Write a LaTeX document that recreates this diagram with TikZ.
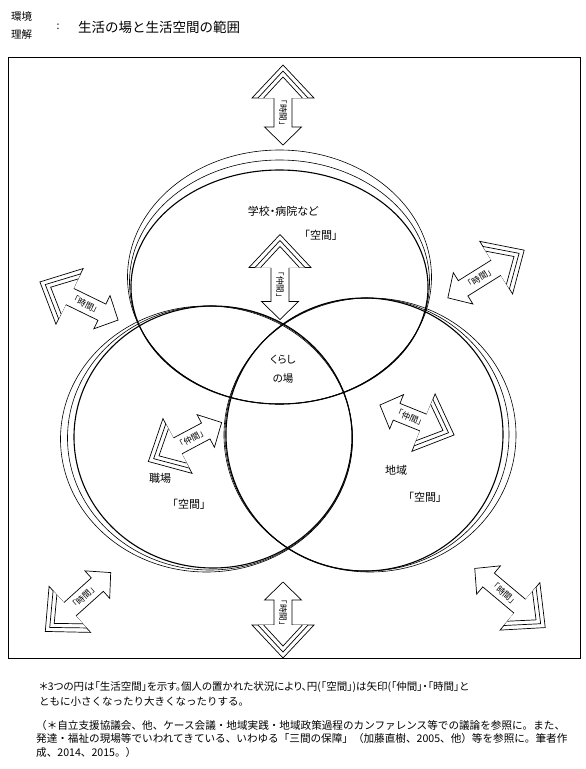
\documentclass[tikz,border=0pt]{standalone}
\usepackage{fontspec}
\setmainfont{Noto Sans CJK JP}
\newfontfamily\jpp[RawFeature=+palt]{Noto Sans CJK JP}
\newcommand{\fsz}[1]{\fontsize{#1}{#1}\selectfont}

% double block arrow: name, x, y, axis angle, length, text angle, label
\newcommand{\sanarrow}[7]{%
  \begin{scope}[shift={(#2,#3)}, rotate=#4]
    \pgfmathsetmacro{\ha}{#5/2}
    \draw[arrline] (\ha-33,9) -- (\ha-33,31) -- (\ha,0) -- (\ha-33,-31) -- (\ha-33,-9)
      -- (-\ha+18,-9) -- (-\ha+18,-18.5) -- (-\ha,0) -- (-\ha+18,18.5) -- (-\ha+18,9) -- cycle;
    \draw[arrline] (\ha-33,25) -- (\ha-6,0) -- (\ha-33,-25);
    \draw[arrline] (\ha-33,19.4) -- (\ha-12,0) -- (\ha-33,-19.4);
    \node[lbl, rotate=#6] (#1) at (-7.5,0) {#7};
  \end{scope}}

\tikzset{
  ring/.style={line width=0.6pt},
  mainring/.style={line width=1.1pt},
  arrline/.style={line width=0.7pt, fill=white, line join=miter},
  lbl/.style={font=\fsz{8.5}, inner sep=0pt},
  inlbl/.style={font=\jpp\fsz{11}},
}

\begin{document}
\begin{tikzpicture}[x=1pt, y=-1pt]
  \useasboundingbox (0,0) rectangle (586,769);

  % heading
  \node[anchor=west, font=\fsz{10.5}, inner sep=0pt] (kankyo) at (11,17) {環境};
  \node[anchor=west, font=\fsz{10.5}, inner sep=0pt] (rikai) at (11,35) {理解};
  \node[font=\fsz{10.5}, inner sep=0pt] (colon) at (58,27) {:};
  \node[anchor=west, font=\fsz{13.5}, inner sep=0pt] (title) at (78,27) {生活の場と生活空間の範囲};

  \draw[line width=0.9pt] (8,57) rectangle (580,658);

  % three living spaces
  \draw[ring] (279.5,277) ellipse [x radius=152, y radius=127];
  \draw[ring] (279.5,282) ellipse [x radius=150, y radius=122];
  \draw[mainring] (279.5,287) ellipse [x radius=148.5, y radius=117];

  \draw[ring] (206.5,439) ellipse [x radius=146, y radius=133];
  \draw[ring] (210,438) ellipse [x radius=142.5, y radius=132];
  \draw[mainring] (213,437) ellipse [x radius=139, y radius=131];

  \draw[ring] (370,435) ellipse [x radius=146, y radius=137];
  \draw[ring] (367,434.5) ellipse [x radius=142, y radius=136.5];
  \draw[mainring] (364.5,434.5) ellipse [x radius=138.5, y radius=136.5];

  % labels
  \node[inlbl] (school) at (283,211) {学校・病院など};
  \node[inlbl] (spaceA) at (321,235) {「空間」};
  \node[inlbl, font=\jpp\fsz{10.5}] (kurashi) at (283,360) {くらし};
  \node[inlbl, font=\jpp\fsz{10.5}] (ba) at (283,379) {の場};
  \node[inlbl] (work) at (160,478) {職場};
  \node[inlbl] (spaceB) at (189,504) {「空間」};
  \node[inlbl] (area) at (396,470) {地域};
  \node[inlbl] (spaceC) at (425,497) {「空間」};

  % arrows
  \sanarrow{tTop}{283}{105}{90}{80}{-90}{「時間」}
  \sanarrow{nTop}{280}{277}{90}{85}{-90}{「仲間」}
  \sanarrow{tUL}{79}{301}{154}{87}{-26}{「時間」}
  \sanarrow{tUR}{486}{274}{32}{90}{32}{「時間」}
  \sanarrow{nLeft}{185}{442}{208}{83}{28}{「仲間」}
  \sanarrow{nRight}{417}{420}{-22}{80}{-22}{「仲間」}
  \sanarrow{tLL}{78}{602}{222}{88}{42}{「時間」}
  \sanarrow{tBot}{283}{620}{-90}{76}{-90}{「時間」}
  \sanarrow{tLR}{510}{598}{-40}{92}{-40}{「時間」}

  % notes
  \node[anchor=north west, align=left, font=\fsz{10.5}, inner sep=0pt] (note) at (39,681)
    {{\jpp\fsz{10.5}＊3つの円は「生活空間」を示す。個人の置かれた状況により、円(「空間」)は矢印(「仲間」・「時間」と}\\[3.5pt]
     ともに小さくなったり大きくなったりする。};
  \node[anchor=north west, align=left, font=\fsz{10.6}, inner sep=0pt] (refs) at (36,720)
    {（＊自立支援協議会、他、ケース会議・地域実践・地域政策過程のカンファレンス等での議論を参照に。また、\\[3pt]
     発達・福祉の現場等でいわれてきている、いわゆる「三間の保障」（加藤直樹、2005、他）等を参照に。筆者作\\[3pt]
     成、2014、2015。）};
\end{tikzpicture}
\end{document}
